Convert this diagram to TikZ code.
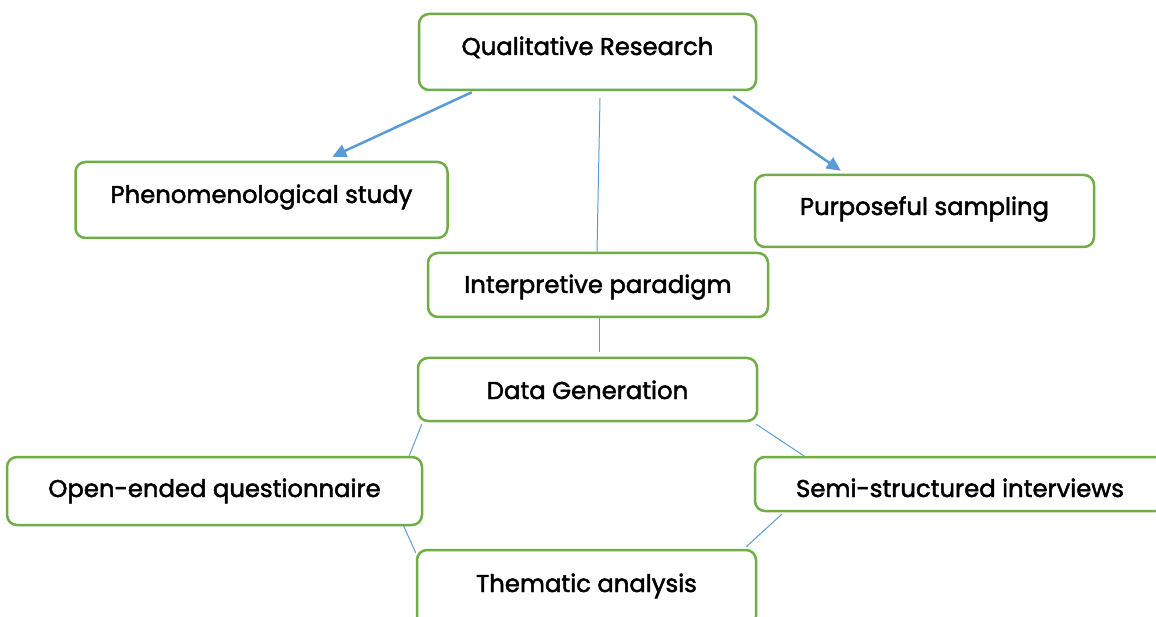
\documentclass[tikz,border=0pt]{standalone}
\usepackage{fontspec}
\setmainfont{Poppins}
\newfontfamily\lblfont{Poppins}[FakeBold=2]
\usetikzlibrary{arrows.meta,calc}
\definecolor{boxgreen}{HTML}{70AD47}
\definecolor{lineblue}{HTML}{5B9BD5}
\begin{document}
\begin{tikzpicture}[x=1pt,y=-1pt,
 box/.style={draw=boxgreen,line width=2.5pt,rounded corners=10pt,inner sep=0pt,fill=white},
 lbl/.style={anchor=base,font=\lblfont\fontsize{24.3}{28}\selectfont,inner sep=0pt},
 arr/.style={draw=lineblue,line width=2.5pt,-{Triangle[length=14pt,width=13pt]}},
 thinln/.style={draw=lineblue,line width=1pt}]
\useasboundingbox (0,0) rectangle (1156,617);
\node[box,minimum width=337pt,minimum height=76pt] (qr) at (587.5,52) {};
\node[box,minimum width=372pt,minimum height=76pt] (ph) at (261.5,200) {};
\node[box,minimum width=339pt,minimum height=72pt] (ps) at (924.5,211) {};
\node[box,minimum width=340pt,minimum height=64pt] (ip) at (598,285) {};
\node[box,minimum width=339pt,minimum height=63pt] (dg) at (587.5,389.5) {};
\node[box,minimum width=415pt,minimum height=68pt] (oe) at (214.5,491) {};
\node[box,minimum width=410pt,minimum height=54pt] (ss) at (960,484) {};
\node[box,minimum width=339pt,minimum height=76pt] (ta) at (586.5,588) {};

\node[lbl] (qrt) at (587.5,55) {Qualitative Research};
\node[lbl] (pht) at (261.5,203) {Phenomenological study};
\node[lbl] (pst) at (924.5,215) {Purposeful sampling};
\node[lbl] (ipt) at (598,293) {Interpretive paradigm};
\node[lbl] (dgt) at (587.5,399) {Data Generation};
\node[lbl] (oet) at (214.5,497) {Open-ended questionnaire};
\node[lbl] (sst) at (960,497) {Semi-structured interviews};
\node[lbl] (tat) at (586.5,592) {Thematic analysis};

\draw[arr] ($(qr.south west)+(54,1)$) -- ($(ph.north west)+(258,-4)$);
\draw[arr] ($(qr.south east)+(-24,5)$) -- ($(ps.north west)+(87,-3)$);
\draw[thinln] ($(qr.south)+(12.5,7)$) -- ($(ip.north)+(-1,0)$);
\draw[thinln] ($(ip.south)+(1,0)$) -- ($(dg.north)+(11.5,-5)$);
\draw[thinln] ($(dg.south west)+(5,2)$) -- ($(oe.north east)+(-14,0)$);
\draw[thinln] ($(oe.south east)+(-20,-1)$) -- ($(ta.north west)+(0,4)$);
\draw[thinln] ($(dg.south east)+(-2,2)$) -- ($(ss.north west)+(50,0)$);
\draw[thinln] ($(ss.south west)+(28,2)$) -- ($(ta.north east)+(-11,-2)$);
\end{tikzpicture}
\end{document}
